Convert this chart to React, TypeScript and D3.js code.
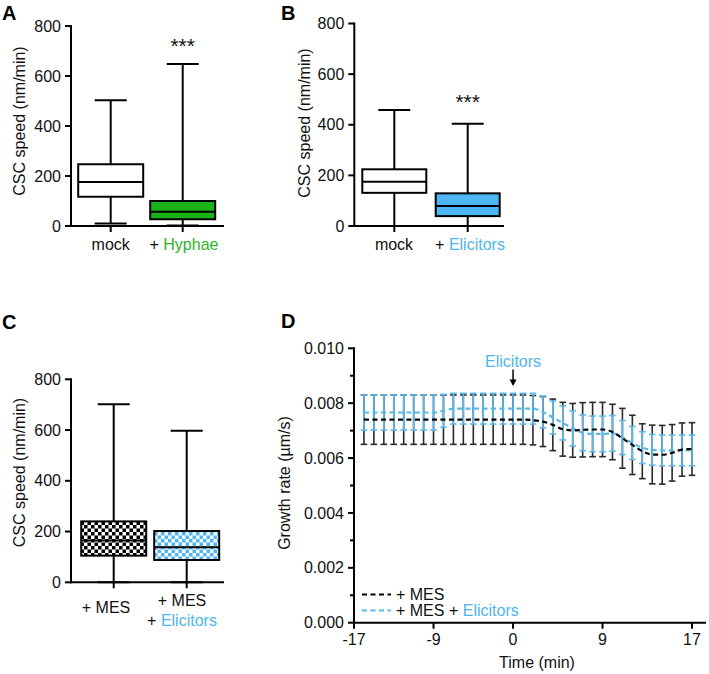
import React from "react";
import * as d3 from "d3";

const FONT = "Arial, 'Liberation Sans', Helvetica, sans-serif";
const BLUE_TEXT = "#4fb4ec";
const BLUE_LINE = "#5ab9ea";
const BLUE_FILL = "#4db6f4";
const GREEN_FILL = "#19b219";
const GREEN_TEXT = "#2bb52b";

// Box plots: [min, q1, median, q3, max] in nm/min
const catsA = ["mock", "+ Hyphae"];
const boxA = [
  [10, 117, 176, 247, 503],
  [2, 27, 57, 100, 648],
];
const catsB = ["mock", "+ Elicitors"];
const boxB = [
  [0, 131, 175, 224, 458],
  [0, 39, 79, 129, 404],
];
const catsC = ["+ MES", "+ MES + Elicitors"];
const boxC = [
  [0, 105, 165, 240, 702],
  [0, 88, 138, 202, 597],
];
const speedTicks = [0, 200, 400, 600, 800];

// Panel D: growth rate time course (values in 1e-3 µm/s)
const timeIndex = [
  1, 2, 3, 4, 5, 6, 7, 8, 9, 10, 11, 12, 13, 14, 15, 16, 17,
  18, 19, 20, 21, 22, 23, 24, 25, 26, 27, 28, 29, 30, 31, 32, 33, 34,
];
const timeTickIndex = [0, 8, 16, 25, 34];
const timeTickLabels = ["-17", "-9", "0", "9", "17"];
const mesMean = [
  7.4, 7.4, 7.4, 7.4, 7.4, 7.4, 7.4, 7.4, 7.4, 7.4, 7.4, 7.4, 7.4, 7.4, 7.4, 7.4, 7.4,
  7.38, 7.33, 7.21, 7.05, 7.01, 7.03, 7.04, 7.04, 6.95, 6.72, 6.48, 6.25, 6.13, 6.12, 6.19, 6.31, 6.33,
];
const mesErr = [
  0.9, 0.9, 0.9, 0.9, 0.9, 0.9, 0.9, 0.9, 0.9, 0.9, 0.9, 0.9, 0.9, 0.9, 0.9, 0.9, 0.9,
  0.9, 0.91, 0.94, 0.98, 0.98, 0.99, 0.99, 0.99, 1.01, 1.09, 1.08, 1.0, 1.07, 1.07, 1.03, 0.97, 0.96,
];
const elicMean = [
  7.66, 7.66, 7.66, 7.66, 7.66, 7.66, 7.66, 7.66, 7.72, 7.8, 7.8, 7.8, 7.8, 7.8, 7.8, 7.8, 7.8,
  7.8, 7.68, 7.48, 7.28, 7.08, 6.92, 6.88, 6.88, 6.9, 6.75, 6.55, 6.38, 6.3, 6.28, 6.28, 6.28, 6.28,
];
const elicErr = [
  0.64, 0.64, 0.64, 0.64, 0.64, 0.64, 0.64, 0.64, 0.6, 0.56, 0.56, 0.56, 0.56, 0.56, 0.56, 0.56, 0.56,
  0.56, 0.58, 0.6, 0.62, 0.64, 0.65, 0.65, 0.65, 0.65, 0.62, 0.6, 0.58, 0.56, 0.56, 0.56, 0.56, 0.56,
];
const rateTicks = [0, 0.002, 0.004, 0.006, 0.008, 0.01];
const rateMinorTicks = [0.001, 0.003, 0.005, 0.007, 0.009];
const elicitorIndex = 16;

type BoxProps = {
  cx: number;
  y: d3.ScaleLinear<number, number>;
  s: number[];
  fill: string;
  w: number;
  capW: number;
};

function Box({ cx, y, s, fill, w, capW }: BoxProps) {
  const [mn, q1, med, q3, mx] = s;
  return (
    <g stroke="#000" strokeWidth={2} fill="none">
      <line x1={cx} x2={cx} y1={y(mx)} y2={y(q3)} />
      <line x1={cx} x2={cx} y1={y(q1)} y2={y(mn)} />
      <line x1={cx - capW / 2} x2={cx + capW / 2} y1={y(mx)} y2={y(mx)} />
      <line x1={cx - capW / 2} x2={cx + capW / 2} y1={y(mn)} y2={y(mn)} />
      <rect x={cx - w / 2} y={y(q3)} width={w} height={y(q1) - y(q3)} fill={fill} />
      <line x1={cx - w / 2} x2={cx + w / 2} y1={y(med)} y2={y(med)} />
    </g>
  );
}

type PanelProps = {
  axisX: number;
  yTop: number;
  yBottom: number;
  xEnd: number;
  centers: [number, number];
  cats: string[];
  stats: number[][];
  fills: string[];
  boxW: number;
  titleX: number;
  titleY: number;
  stars?: number;
  starsY?: number;
  children?: React.ReactNode;
};

function BoxPanel(p: PanelProps) {
  const y = d3.scaleLinear().domain([0, 800]).range([p.yBottom, p.yTop]);
  const x = d3.scalePoint<string>().domain(p.cats).range(p.centers);
  return (
    <g fontFamily={FONT}>
      {p.stats.map((s, i) => (
        <Box key={i} cx={x(p.cats[i]) as number} y={y} s={s} fill={p.fills[i]} w={p.boxW} capW={32} />
      ))}
      <g stroke="#000" strokeWidth={2} strokeLinecap="square">
        <line x1={p.axisX} x2={p.axisX} y1={y(800)} y2={y(0)} />
        <line x1={p.axisX} x2={p.xEnd} y1={y(0)} y2={y(0)} />
        {speedTicks.map((t) => (
          <line key={t} x1={p.axisX - 6} x2={p.axisX} y1={y(t)} y2={y(t)} strokeLinecap="butt" />
        ))}
        {p.cats.map((c) => (
          <line key={c} x1={x(c)} x2={x(c)} y1={y(0)} y2={y(0) + 6} strokeLinecap="butt" />
        ))}
      </g>
      {speedTicks.map((t) => (
        <text key={t} x={p.axisX - 10} y={y(t)} dy="0.35em" textAnchor="end" fontSize={16} fill="#111">
          {t}
        </text>
      ))}
      <text
        transform={`translate(${p.titleX},${p.titleY}) rotate(-90)`}
        textAnchor="middle"
        fontSize={16}
        fill="#111"
      >
        CSC speed (nm/min)
      </text>
      {p.stars !== undefined && p.starsY !== undefined ? (
        <text x={x(p.cats[p.stars])} y={p.starsY} textAnchor="middle" fontSize={21} fill="#111">
          ***
        </text>
      ) : null}
      {p.children}
    </g>
  );
}

function PanelD() {
  const x = d3.scaleLinear().domain([0, 34]).range([354, 692]);
  const y = d3.scaleLinear().domain([0, 0.01]).range([622.7, 348.3]);
  const ax = x(0);
  const ay = y(0);
  const line = d3
    .line<number>()
    .x((d) => x(d))
    .curve(d3.curveMonotoneX);
  const mesPath = line.y((d, i) => y(mesMean[i] / 1000))(timeIndex) || "";
  const elicPath = line.y((d, i) => y(elicMean[i] / 1000))(timeIndex) || "";
  const cap = 3.3;
  const bars = (means: number[], errs: number[], color: string) =>
    timeIndex.map((t, i) => {
      const xx = x(t);
      const hi = y((means[i] + errs[i]) / 1000);
      const lo = y((means[i] - errs[i]) / 1000);
      return (
        <g key={t} stroke={color} strokeWidth={1.6}>
          <line x1={xx} x2={xx} y1={hi} y2={lo} />
          <line x1={xx - cap} x2={xx + cap} y1={hi} y2={hi} />
          <line x1={xx - cap} x2={xx + cap} y1={lo} y2={lo} />
        </g>
      );
    });
  const ex = x(elicitorIndex);
  return (
    <g fontFamily={FONT}>
      {bars(mesMean, mesErr, "#2a2a2a")}
      {bars(elicMean, elicErr, BLUE_LINE)}
      <path d={elicPath} fill="none" stroke={BLUE_LINE} strokeWidth={2.2} strokeDasharray="5,3.5" />
      <path d={mesPath} fill="none" stroke="#000" strokeWidth={2.2} strokeDasharray="5,3.5" />
      <g stroke="#000" strokeWidth={2} strokeLinecap="square">
        <line x1={ax} x2={ax} y1={y(0.01)} y2={ay} />
        <line x1={ax} x2={705} y1={ay} y2={ay} />
        {rateTicks.map((t) => (
          <line key={t} x1={ax - 6} x2={ax} y1={y(t)} y2={y(t)} strokeLinecap="butt" />
        ))}
        {rateMinorTicks.map((t) => (
          <line key={t} x1={ax - 4} x2={ax} y1={y(t)} y2={y(t)} strokeLinecap="butt" />
        ))}
        {timeTickIndex.map((t) => (
          <line key={t} x1={x(t)} x2={x(t)} y1={ay} y2={ay + 6} strokeLinecap="butt" />
        ))}
      </g>
      {rateTicks.map((t) => (
        <text key={t} x={ax - 10} y={y(t)} dy="0.35em" textAnchor="end" fontSize={16} fill="#111">
          {d3.format(".3f")(t)}
        </text>
      ))}
      {timeTickIndex.map((t, i) => (
        <text key={t} x={x(t)} y={645} textAnchor="middle" fontSize={16} fill="#111">
          {timeTickLabels[i]}
        </text>
      ))}
      <text x={(x(0) + x(34)) / 2 + 14} y={668} textAnchor="middle" fontSize={16} fill="#111">
        Time (min)
      </text>
      <text transform={`translate(289.8,483) rotate(-90)`} textAnchor="middle" fontSize={16} fill="#111">
        Growth rate (µm/s)
      </text>
      <text x={ex} y={366.5} textAnchor="middle" fontSize={16} fill={BLUE_TEXT}>
        Elicitors
      </text>
      <line x1={ex} x2={ex} y1={369.5} y2={381} stroke="#000" strokeWidth={1.5} />
      <path d={`M${ex - 3.5},${379.5} L${ex + 3.5},${379.5} L${ex},${386} Z`} fill="#000" />
      {/* legend */}
      <line x1={362} x2={391} y1={594.5} y2={594.5} stroke="#000" strokeWidth={2.2} strokeDasharray="5,3.5" />
      <text x={396} y={599.5} fontSize={16} fill="#111">
        + MES
      </text>
      <line x1={362} x2={391} y1={610.5} y2={610.5} stroke={BLUE_LINE} strokeWidth={2.2} strokeDasharray="5,3.5" />
      <text x={396} y={615.5} fontSize={16} fill="#111">
        + MES +{" "}
        <tspan fill={BLUE_TEXT}>Elicitors</tspan>
      </text>
    </g>
  );
}

export default function App() {
  return (
    <svg width={709} height={674} style={{ position: "absolute", left: 0, top: 0 }} xmlns="http://www.w3.org/2000/svg">
      <defs>
        <pattern id="checkBlack" patternUnits="userSpaceOnUse" width={7} height={7}>
          <rect width={7} height={7} fill="#fff" />
          <rect width={3.5} height={3.5} fill="#000" />
          <rect x={3.5} y={3.5} width={3.5} height={3.5} fill="#000" />
        </pattern>
        <pattern id="checkBlue" patternUnits="userSpaceOnUse" width={7} height={7}>
          <rect width={7} height={7} fill="#fff" />
          <rect width={3.5} height={3.5} fill={BLUE_FILL} />
          <rect x={3.5} y={3.5} width={3.5} height={3.5} fill={BLUE_FILL} />
        </pattern>
      </defs>
      <rect width={709} height={674} fill="#fff" />
      <g fontFamily={FONT} fontWeight="bold" fontSize={20} fill="#000">
        <text x={2} y={19.5}>A</text>
        <text x={281} y={19.5}>B</text>
        <text x={2} y={328.5}>C</text>
        <text x={281} y={327.5}>D</text>
      </g>
      {/* Panel A */}
      <BoxPanel
        axisX={71}
        yTop={26}
        yBottom={226}
        xEnd={223}
        centers={[110.7, 182.7]}
        cats={catsA}
        stats={boxA}
        fills={["#fff", GREEN_FILL]}
        boxW={65}
        titleX={24.8}
        titleY={121}
        stars={1}
        starsY={52.8}
      >
        <g fontFamily={FONT} fontSize={16} fill="#111" textAnchor="middle">
          <text x={110.7} y={249.5}>mock</text>
          <text x={184} y={249.5}>
            + <tspan fill={GREEN_TEXT}>Hyphae</tspan>
          </text>
        </g>
      </BoxPanel>
      {/* Panel B */}
      <BoxPanel
        axisX={354.3}
        yTop={23.5}
        yBottom={226}
        xEnd={503}
        centers={[394.3, 467.7]}
        cats={catsB}
        stats={boxB}
        fills={["#fff", BLUE_FILL]}
        boxW={64}
        titleX={309.8}
        titleY={123}
        stars={1}
        starsY={109.3}
      >
        <g fontFamily={FONT} fontSize={16} fill="#111" textAnchor="middle">
          <text x={394} y={249.5}>mock</text>
          <text x={470} y={249.5}>
            + <tspan fill={BLUE_TEXT}>Elicitors</tspan>
          </text>
        </g>
      </BoxPanel>
      {/* Panel C */}
      <BoxPanel
        axisX={71}
        yTop={379.3}
        yBottom={582.3}
        xEnd={223}
        centers={[113.7, 186.7]}
        cats={catsC}
        stats={boxC}
        fills={["url(#checkBlack)", "url(#checkBlue)"]}
        boxW={65}
        titleX={24.8}
        titleY={472.5}
      >
        <g fontFamily={FONT} fontSize={16} fill="#111" textAnchor="middle">
          <text x={106} y={613.4}>+ MES</text>
          <text x={182} y={606.4}>+ MES</text>
          <text x={182} y={625.8}>
            + <tspan fill={BLUE_TEXT}>Elicitors</tspan>
          </text>
        </g>
      </BoxPanel>
      <PanelD />
    </svg>
  );
}
